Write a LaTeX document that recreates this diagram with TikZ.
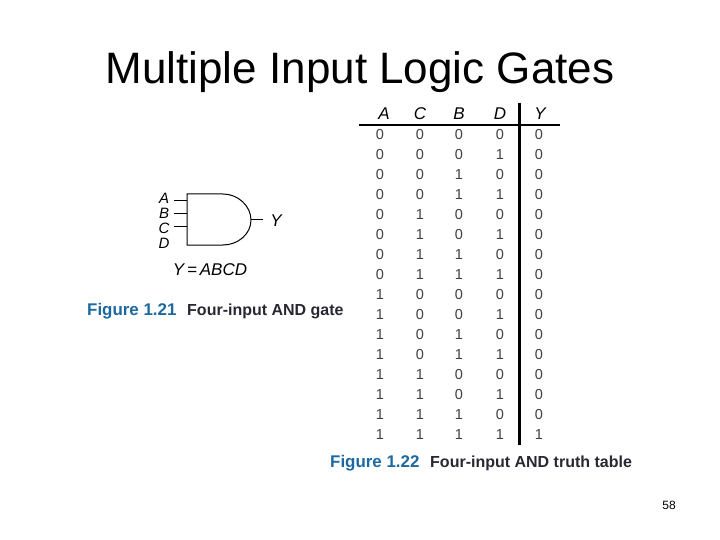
\documentclass[tikz,border=0pt]{standalone}
\usepackage{fontspec}
\setmainfont{Liberation Sans}
\definecolor{figblue}{RGB}{28,104,160}
\definecolor{capblack}{RGB}{40,40,50}
\tikzset{
  pin/.style={inner sep=0pt,font=\fontsize{15}{15}\selectfont\itshape},
  varname/.style={inner sep=0pt,font=\fontsize{17}{17}\selectfont\itshape},
  bit/.style={inner sep=0pt,text=black!75,font=\fontsize{14.5}{15}\selectfont},
  figno/.style={inner sep=0pt,anchor=west,text=figblue,font=\fontsize{16.9}{17}\selectfont\bfseries},
  figtxt/.style={inner sep=0pt,anchor=west,text=capblack,font=\fontsize{16}{16}\selectfont\bfseries}
}
\begin{document}
\begin{tikzpicture}[x=1pt,y=-1pt]
\useasboundingbox (0,0) rectangle (720,540);

\node (title) at (360,72) {\fontsize{44}{44}\selectfont Multiple Input Logic Gates};
\node (page) at (669,505) {\fontsize{12}{12}\selectfont 58};

% gate
\coordinate (gnw) at (187,194);
\coordinate (gsw) at (187,245);
\coordinate (gout) at (251,220);
\draw [line width=1pt] (gout) .. controls (251,206) and (238,194) .. (223,194) -- (gnw) -- (gsw) -- (223,245) .. controls (238,245) and (251,234) .. (gout);

\foreach \name/\y in {A/198,B/213,C/228,D/243}
  \node [pin] (pin\name) at (164,\y) {\name};
\foreach \name/\y in {A/201,B/214,C/227} {
  \coordinate (in\name) at (174,\y);
  \coordinate (gin\name) at (187,\y);
  \draw [line width=1pt] (in\name) -- (gin\name);
}
\node [varname] (outY) at (276,221) {Y};
\coordinate (gend) at (263,220);
\draw [line width=1pt] (gout) -- (gend);
\node [varname] (eqn) at (210,269.5) {Y\,=\,ABCD};

\node [figno] (fig21) at (87,311) {Figure 1.21};
\node [figtxt] (cap21) at (187,311) {Four-input AND gate};

% truth table
\foreach \name/\x in {A/384,C/420,B/459,D/500,Y/540}
  \node [varname] (head\name) at (\x,113.5) {\name};
\coordinate (rulew) at (359,125);
\coordinate (rulee) at (560,125);
\coordinate (rulen) at (519.5,103);
\coordinate (rules) at (519.5,445);
\draw [line width=1.5pt] (rulew) -- (rulee);
\draw [line width=2.4pt] (rulen) -- (rules);

\foreach \a/\c/\b/\d/\o [count=\r from 0] in {
  0/0/0/0/0,0/0/0/1/0,0/0/1/0/0,0/0/1/1/0,
  0/1/0/0/0,0/1/0/1/0,0/1/1/0/0,0/1/1/1/0,
  1/0/0/0/0,1/0/0/1/0,1/0/1/0/0,1/0/1/1/0,
  1/1/0/0/0,1/1/0/1/0,1/1/1/0/0,1/1/1/1/1} {
  \node [bit] (a\r) at (380,134.5+20*\r) {\a};
  \node [bit] (c\r) at (420,134.5+20*\r) {\c};
  \node [bit] (b\r) at (459,134.5+20*\r) {\b};
  \node [bit] (d\r) at (500,134.5+20*\r) {\d};
  \node [bit] (y\r) at (539,134.5+20*\r) {\o};
}

\node [figno] (fig22) at (330,463) {Figure 1.22};
\node [figtxt] (cap22) at (430,463) {Four-input AND truth table};

\end{tikzpicture}
\end{document}
